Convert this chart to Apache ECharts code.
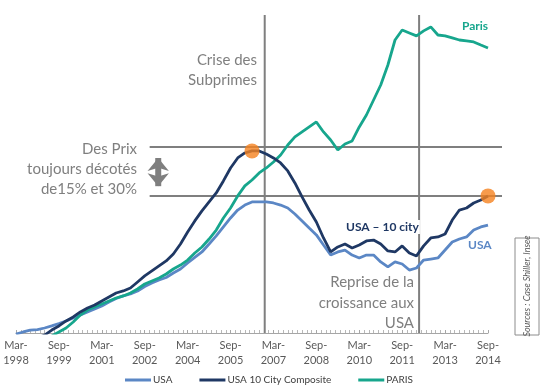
<!DOCTYPE html>
<html><head><meta charset="utf-8">
<script src="https://cdn.jsdelivr.net/npm/echarts@6/dist/echarts.min.js"></script>
<style>html,body{margin:0;padding:0;background:#fff}#c{width:552px;height:385px}</style>
</head><body><div id="c"></div>
<script>
// Quarterly index values, Mar-1998 .. Sep-2014 (67 quarters)
const tickLabels = ['Mar-\n1998','Sep-\n1999','Mar-\n2001','Sep-\n2002','Mar-\n2004','Sep-\n2005','Mar-\n2007','Sep-\n2008','Mar-\n2010','Sep-\n2011','Mar-\n2013','Sep-\n2014'];
const seriesNames = ['USA', 'USA 10 City Composite', 'PARIS'];
const usa = [81.2,82.8,84.3,84.7,85.9,87.5,89.4,91.4,93.7,96.0,
  98.4,100.7,103.1,106.2,108.9,110.9,112.4,114.8,118.3,121.0,
  123.3,125.3,128.8,131.9,136.6,140.9,145.2,151.4,157.7,164.7,
  171.7,177.9,181.8,184.2,184.2,184.2,183.4,181.8,179.5,174.8,
  169.4,163.9,158.5,150.6,142.8,145.2,146.7,142.8,140.5,142.8,
  142.8,137.4,133.5,137.4,135.8,131.1,132.7,138.9,139.7,140.5,
  146.7,153.0,155.3,156.9,162.3,164.7,166.2];
const usa10 = [72.6,75.0,76.5,78.1,80.4,84.3,87.5,91.4,94.5,98.4,
  101.5,103.8,107.0,110.1,113.2,114.8,117.1,121.8,126.5,130.4,
  134.3,138.2,143.6,151.4,160.8,169.4,177.2,184.2,191.2,200.6,
  210.7,218.5,222.4,224.0,224.0,221.6,218.5,214.6,208.4,199.0,
  188.1,177.9,168.6,156.1,145.2,149.1,151.4,148.3,150.6,153.8,
  154.5,151.4,146.0,145.2,149.9,144.4,142.1,149.9,156.1,156.9,
  159.2,170.1,177.9,179.5,183.4,185.7,188.9];
const paris = [64.8,68.7,71.9,75.0,77.3,79.7,82.8,85.9,90.6,96.0,
  99.9,102.3,104.6,107.0,109.3,110.9,113.2,116.3,120.2,122.6,
  124.9,128.0,131.9,135.0,138.9,144.4,149.1,155.3,162.3,171.7,
  179.5,188.9,196.7,201.3,206.8,210.7,215.4,220.8,228.6,234.9,
  238.8,242.7,246.6,238.8,232.5,224.7,229.4,231.8,242.7,252.0,
  263.7,275.4,291.0,310.5,318.3,316.0,313.7,317.6,320.7,314.4,
  313.7,312.1,310.5,309.8,309.0,306.6,304.3];
const highlightIdx = [33, 66];          // orange dots on USA 10 City
const crisisQ = 34.8, recoveryQ = 56.4;  // vertical annotation lines (quarter index)
const bandTop = 227.1, bandBottom = 188.9, bandFrom = 18.7, bandTo = 68;
const arrowQ = 19.9, arrowTop = 218.5, arrowBottom = 196.5;
const yMin = 82, yMax = 330;

const colors = {usa:'#5b87c5', usa10:'#1f3864', paris:'#17a68d', grey:'#7f7f7f', orange:'#f5821f'};
const FONT = 'Lato, "Open Sans", sans-serif';
const pts = arr => arr.map((v, i) => [i, v]);

const chart = echarts.init(document.getElementById('c'), null, {renderer:'canvas'});
// annotation lines live on a second (hidden) grid whose x range runs 2 quarters further
const annoLine = (data, extra) => Object.assign({
  type:'line', data, xAxisIndex:1, yAxisIndex:1, clip:false, silent:true, showSymbol:false, symbol:'none', z:1,
  lineStyle:{color:colors.grey, width:2}, animation:false, legendHoverLink:false
}, extra || {});

chart.setOption({
  animation:false,
  grid:[{left:16, right:64, top:15, bottom:52}, {left:16, right:50, top:15, bottom:52}],
  xAxis:[{type:'value', min:0, max:66, interval:6, gridIndex:0,
    axisLine:{lineStyle:{color:'#a6a6a6', width:1}},
    axisTick:{show:true, inside:true, length:3, lineStyle:{color:'#a6a6a6'}},
    minorTick:{show:true, splitNumber:9, length:3, lineStyle:{color:'#b8b8b8'}},
    splitLine:{show:false},
    axisLabel:{margin:5, fontSize:11, lineHeight:15, color:'#595959', fontFamily:FONT,
      formatter: v => tickLabels[Math.round(v/6)] || ''}
  }, {type:'value', min:0, max:68, gridIndex:1, show:false}],
  yAxis:[{type:'value', min:yMin, max:yMax, show:false, splitLine:{show:false}, gridIndex:0},
         {type:'value', min:yMin, max:yMax, show:false, splitLine:{show:false}, gridIndex:1}],
  legend:{data:seriesNames, left:120, top:370, icon:'rect', itemWidth:26, itemHeight:3, itemGap:27,
    textStyle:{fontSize:10, color:'#404040', fontFamily:FONT, padding:[0,0,0,-3]}},
  series:[
    annoLine([[bandFrom, bandTop],[bandTo, bandTop]]),
    annoLine([[bandFrom, bandBottom],[bandTo, bandBottom]]),
    annoLine([[crisisQ, yMin],[crisisQ, yMax]]),
    annoLine([[recoveryQ, yMin],[recoveryQ, yMax]]),
    annoLine([{value:[arrowQ, arrowTop], symbolRotate:0},{value:[arrowQ, arrowBottom], symbolRotate:180}],
      {showSymbol:true, symbol:'arrow', symbolSize:[16,13], itemStyle:{color:colors.grey},
       lineStyle:{color:colors.grey, width:6}}),
    {name:seriesNames[0], type:'line', data:pts(usa), showSymbol:false, symbol:'none', z:3,
      lineStyle:{color:colors.usa, width:2.8}, itemStyle:{color:colors.usa}},
    {name:seriesNames[1], type:'line', data:pts(usa10), showSymbol:false, symbol:'none', z:4,
      lineStyle:{color:colors.usa10, width:2.8}, itemStyle:{color:colors.usa10}},
    {name:seriesNames[2], type:'line', data:pts(paris), showSymbol:false, symbol:'none', z:3,
      lineStyle:{color:colors.paris, width:2.8}, itemStyle:{color:colors.paris}},
    {type:'scatter', data:highlightIdx.map(i => [i, usa10[i]]), symbolSize:15, z:6, silent:true,
      itemStyle:{color:colors.orange}}
  ],
  graphic:[
    {type:'text', z:10, style:{text:'Crise des\nSubprimes', x:257, y:70, align:'right', verticalAlign:'middle',
      lineHeight:20, font:'15px ' + FONT, fill:'#7f7f7f'}},
    {type:'text', z:10, style:{text:'Des Prix\ntoujours décotés\nde15% et 30%', x:137, y:169, align:'right', verticalAlign:'middle',
      lineHeight:20, font:'15px ' + FONT, fill:'#7f7f7f'}},
    {type:'text', z:10, style:{text:'Reprise de la\ncroissance aux\nUSA', x:414, y:303, align:'right', verticalAlign:'middle',
      lineHeight:20.5, font:'15px ' + FONT, fill:'#7f7f7f'}},
    {type:'text', z:10, style:{text:'USA – 10 city', x:345, y:227, align:'left', verticalAlign:'middle',
      font:'bold 12px ' + FONT, fill:colors.usa10, backgroundColor:'#fff', padding:[1,1]}},
    {type:'text', z:10, style:{text:'USA', x:468, y:245, align:'left', verticalAlign:'middle',
      font:'bold 12px ' + FONT, fill:colors.usa}},
    {type:'text', z:10, style:{text:'Paris', x:462, y:26, align:'left', verticalAlign:'middle',
      font:'bold 12px ' + FONT, fill:colors.paris}},
    {type:'rect', z:10, shape:{x:515, y:238, width:24, height:97}, style:{fill:'#fff', stroke:'#8c8c8c', lineWidth:1}},
    {type:'text', z:11, x:527, y:286, rotation:Math.PI/2, style:{text:'Sources : Case Shiller, Insee', x:0, y:0,
      align:'center', verticalAlign:'middle', font:'italic 9px ' + FONT, fill:'#595959'}}
  ]
});
</script>
</body></html>
